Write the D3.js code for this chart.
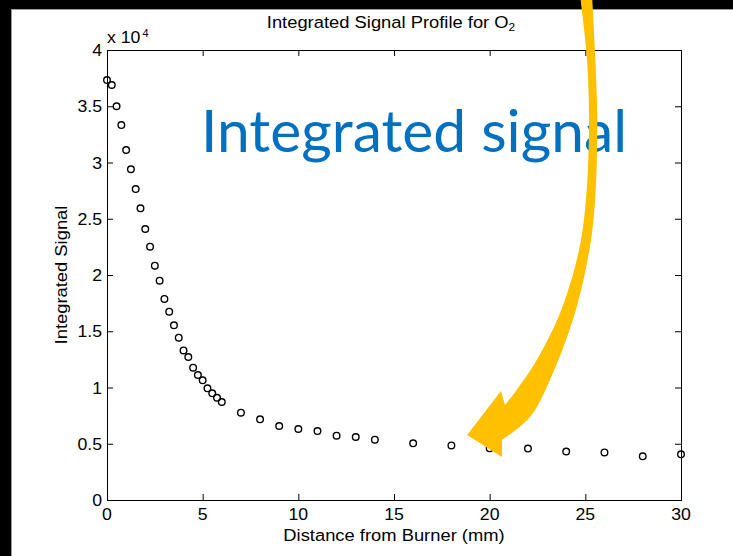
<!DOCTYPE html>
<html>
<head>
<meta charset="utf-8">
<script src="https://cdn.jsdelivr.net/npm/d3@7"></script>
<style>
  html, body { margin: 0; padding: 0; background: #000; }
  svg { display: block; }
</style>
</head>
<body>
<svg id="chart" width="733" height="556"></svg>
<script>
// Distance from burner (mm)
const distance = [
  0, 0.25, 0.5, 0.75, 1, 1.25, 1.5, 1.75, 2, 2.25, 2.5, 2.75, 3,
  3.25, 3.5, 3.75, 4, 4.25, 4.5, 4.75, 5, 5.25, 5.5, 5.75, 6,
  7, 8, 9, 10, 11, 12, 13, 14, 16, 18, 20, 22, 24, 26, 28, 30
];
// Integrated O2 signal
const signal = [
  37330, 36890, 35000, 33330, 31110, 29400, 27640, 25930, 24090, 22520, 20830, 19500, 17870,
  16740, 15530, 14430, 13300, 12710, 11760, 11110, 10640, 9930, 9480, 9090, 8710,
  7760, 7170, 6580, 6310, 6130, 5720, 5600, 5360, 5040, 4850, 4590, 4570, 4310, 4230, 3880, 4060
];
const xTicks = [0, 5, 10, 15, 20, 25, 30];
const yTicks = [0, 5000, 10000, 15000, 20000, 25000, 30000, 35000, 40000];
const yTickLabels = ["0", "0.5", "1", "1.5", "2", "2.5", "3", "3.5", "4"];

const chartTitle = "Integrated Signal Profile for O";
const xTitle = "Distance from Burner (mm)";
const yTitle = "Integrated Signal";
const callout = "Integrated signal";

// Callout arrow outline, in data units: left edge (top to head), head, right edge (head to top)
const arrowLeftEdge = [
  [24.72, 44890], [25.09, 39110], [25.19, 32890], [25.03, 26670], [24.67, 22220],
  [23.68, 16620], [22.37, 12180], [21.48, 9960], [20.80, 8440]
];
const arrowHead = [[20.59, 9690], [18.82, 5780], [20.64, 3820]];
const arrowRightEdge = [
  [20.64, 5330], [22.11, 7380], [23.15, 10670], [24.46, 16620], [25.24, 22490],
  [25.51, 26670], [25.61, 31110], [25.61, 35560], [25.35, 44890]
];

const svg = d3.select("#chart");
const W = 733, H = 556;
const plot = { left: 107, right: 681, top: 50, bottom: 500 };
const FONT = "'Liberation Sans', Arial, Helvetica, sans-serif";
const SX = 1.08;

// page background and white slide panel
svg.append("rect").attr("width", W).attr("height", H).attr("fill", "#000");
svg.append("rect").attr("x", 11.5).attr("y", 9.5).attr("width", W).attr("height", H)
  .attr("fill", "#fff").attr("stroke", "#9a9a9a").attr("stroke-width", 1);

const x = d3.scaleLinear().domain([0, 30]).range([plot.left, plot.right]);
const y = d3.scaleLinear().domain([0, 40000]).range([plot.bottom, plot.top]);

// axes with inward ticks on all four sides
const axisG = svg.append("g").attr("class", "axes");
const tickLen = 6;
const styleAxis = g => {
  g.select(".domain").remove();
  g.selectAll(".tick line").attr("stroke", "#000").attr("stroke-width", 1);
  g.selectAll(".tick text").remove();
};
axisG.append("g").attr("transform", `translate(0,${plot.bottom})`)
  .call(d3.axisBottom(x).tickValues(xTicks).tickSizeInner(-tickLen).tickSizeOuter(0)).call(styleAxis);
axisG.append("g").attr("transform", `translate(0,${plot.top})`)
  .call(d3.axisTop(x).tickValues(xTicks).tickSizeInner(-tickLen).tickSizeOuter(0)).call(styleAxis);
axisG.append("g").attr("transform", `translate(${plot.left},0)`)
  .call(d3.axisLeft(y).tickValues(yTicks).tickSizeInner(-tickLen).tickSizeOuter(0)).call(styleAxis);
axisG.append("g").attr("transform", `translate(${plot.right},0)`)
  .call(d3.axisRight(y).tickValues(yTicks).tickSizeInner(-tickLen).tickSizeOuter(0)).call(styleAxis);
axisG.append("rect")
  .attr("x", plot.left + 0.5).attr("y", plot.top + 0.5)
  .attr("width", plot.right - plot.left).attr("height", plot.bottom - plot.top)
  .attr("fill", "none").attr("stroke", "#000").attr("stroke-width", 1);

// horizontally stretched text helper
function label(parent, tx, ty, text, opts = {}) {
  const g = parent.append("g")
    .attr("transform", `translate(${tx},${ty}) rotate(${opts.rotate || 0}) scale(${opts.sx || SX},1)`);
  const t = g.append("text")
    .attr("font-family", FONT).attr("font-size", opts.size || 17)
    .attr("fill", "#000").attr("text-anchor", opts.anchor || "middle")
    .text(text);
  if (opts.dy) t.attr("dy", opts.dy);
  return t;
}

// tick labels
xTicks.forEach(v => label(svg, x(v), 520, String(v), { sx: 1.04 }));
yTicks.forEach((v, i) => label(svg, plot.left - 5, y(v), yTickLabels[i], { anchor: "end", dy: "0.36em", sx: 1.04 }));

// exponent marker
label(svg, plot.left, 43, "x 10", { anchor: "start", sx: 1.04 });
label(svg, 142.5, 36.5, "4", { anchor: "start", size: 11, sx: 1.0 });

// titles
const titleText = label(svg, (plot.left + plot.right) / 2 - 3, 28, chartTitle, {});
titleText.append("tspan").attr("font-size", 11).attr("dy", 3).text("2");
label(svg, (plot.left + plot.right) / 2, 541, xTitle, {});
label(svg, 67, (plot.top + plot.bottom) / 2, yTitle, { rotate: -90 });

// data markers
svg.append("g").selectAll("circle")
  .data(distance.map((d, i) => [d, signal[i]]))
  .join("circle")
  .attr("cx", d => x(d[0])).attr("cy", d => y(d[1]))
  .attr("r", 3.3)
  .attr("fill", "none").attr("stroke", "#000").attr("stroke-width", 1.4);

// callout text
svg.append("text")
  .attr("x", 201).attr("y", 152)
  .attr("font-family", "Lato, 'Open Sans', sans-serif")
  .attr("font-size", 58)
  .attr("fill", "#0070C0")
  .attr("textLength", 426).attr("lengthAdjust", "spacingAndGlyphs")
  .text(callout);

// curved callout arrow
const edge = d3.line().x(d => x(d[0])).y(d => y(d[1])).curve(d3.curveCatmullRom.alpha(0.5));
const headPart = arrowHead.map(d => `L${x(d[0])},${y(d[1])}`).join("");
const arrowPath = edge(arrowLeftEdge) + headPart + edge(arrowRightEdge).replace(/^M/, "L") + "Z";
svg.append("path").attr("d", arrowPath).attr("fill", "#FFC000");
</script>
</body>
</html>
